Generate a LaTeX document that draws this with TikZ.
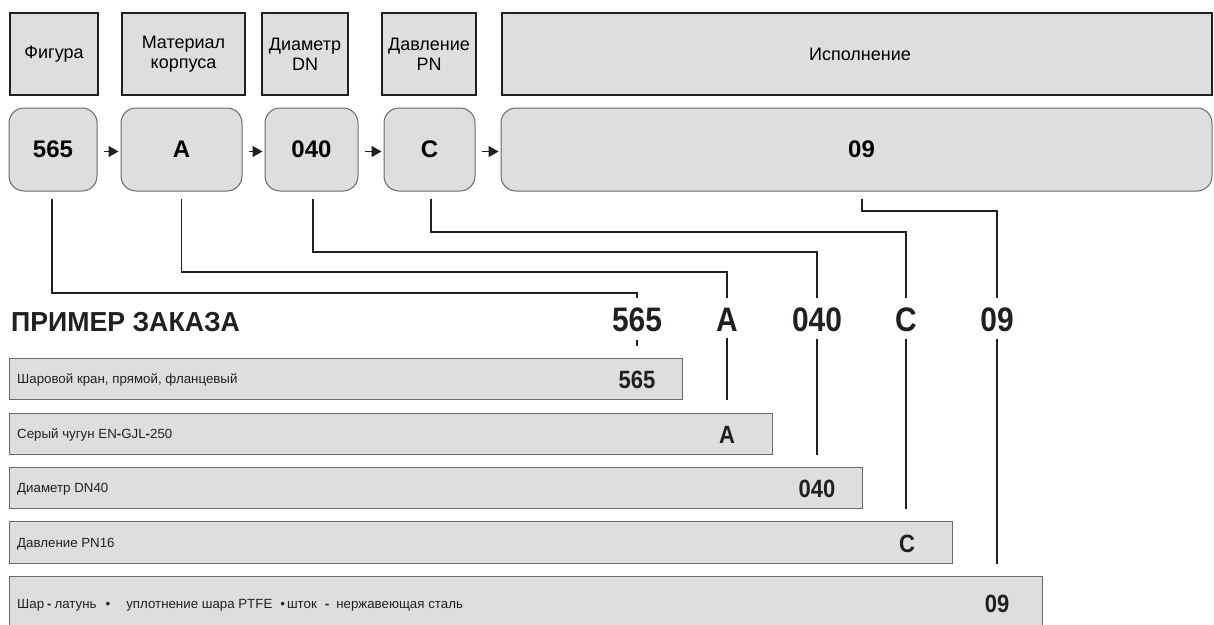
\documentclass[tikz,border=0pt]{standalone}
\usepackage{fontspec}
\setmainfont{Liberation Sans}
\newfontfamily\hdfont[FakeStretch=0.97]{Liberation Sans}
\newfontfamily\codefont[FakeStretch=0.88]{Liberation Sans}
\usetikzlibrary{arrows.meta,calc}
\definecolor{boxfill}{RGB}{222,222,222}
\definecolor{linec}{RGB}{35,31,32}
\definecolor{rimc}{RGB}{105,105,105}
\tikzset{
 topbox/.style={draw=linec, line width=1.5pt, fill=boxfill, inner sep=0pt, align=center, font=\fontsize{18}{20}\selectfont},
 codebox/.style={draw=rimc, line width=1pt, fill=boxfill, rounded corners=15pt, inner sep=0pt, minimum height=83pt, font=\fontsize{24}{24}\selectfont\bfseries},
 bar/.style={draw=rimc, line width=1.4pt, fill=boxfill, anchor=north west, inner sep=0pt},
 flow/.style={draw=linec, line width=1.4pt, -{Triangle[length=10pt,width=11pt]}, shorten <=6pt, shorten >=2pt},
 conn/.style={draw=linec, line width=1.3pt},
 bigcode/.style={font=\codefont\bfseries\fontsize{34}{34}\selectfont, inner sep=0pt, anchor=base, text=linec},
 barcode/.style={font=\codefont\bfseries\fontsize{25}{25}\selectfont, inner sep=0pt, anchor=base, text=linec},
 bartext/.style={font=\fontsize{13.3}{15}\selectfont, inner sep=0pt, anchor=base west, text=linec},
}
\begin{document}
\begin{tikzpicture}[x=1pt,y=-1pt]
\useasboundingbox (0,0) rectangle (1214,624);

% header boxes
\node[topbox, minimum width=88pt, minimum height=82pt] (hFig) at (54,54) {Фигура};
\node[topbox, minimum width=123pt, minimum height=82pt] (hMat) at (183.5,54) {Материал\\корпуса};
\node[topbox, minimum width=86pt, minimum height=82pt] (hDN) at (305,54) {Диаметр\\DN};
\node[topbox, minimum width=94pt, minimum height=82pt] (hPN) at (429,54) {Давление\\PN};
\node[topbox, minimum width=710pt, minimum height=82pt] (hIsp) at (857,54) {\hspace{6pt}Исполнение};

% code boxes
\node[codebox, minimum width=88pt] (r565) at (53,149.5) {565};
\node[codebox, minimum width=121pt] (rA) at (181.5,149.5) {A};
\node[codebox, minimum width=93pt] (r040) at (311.5,149.5) {040};
\node[codebox, minimum width=91pt] (rC) at (429.5,149.5) {C};
\node[codebox, minimum width=711pt] (r09) at (856.5,149.5) {\hspace{10pt}09};

\draw[flow] ([yshift=-2pt]r565.east) -- ([yshift=-2pt]rA.west);
\draw[flow] ([yshift=-2pt]rA.east) -- ([yshift=-2pt]r040.west);
\draw[flow] ([yshift=-2pt]r040.east) -- ([yshift=-2pt]rC.west);
\draw[flow] ([yshift=-2pt]rC.east) -- ([yshift=-2pt]r09.west);

% heading and order codes
\node[font=\hdfont\bfseries\fontsize{27.5}{28}\selectfont, inner sep=0pt, anchor=base west, text=linec] (title) at (11,331) {ПРИМЕР ЗАКАЗА};
\node[bigcode] (L565) at (637,331) {565};
\node[bigcode] (LA) at (727,331) {A};
\node[bigcode] (L040) at (817,331) {040};
\node[bigcode] (LC) at (906,331) {C};
\node[bigcode] (L09) at (997,331) {09};

\coordinate (k565) at (637,293);
\coordinate (kA) at (727,272);
\coordinate (k040) at (817,252);
\coordinate (kC) at (906,232);
\coordinate (k09) at (997,211);

\draw[conn] ([xshift=-1pt]r565.south) ++(0,7) |- (k565) -- ++(0,5);
\draw[conn] (rA.south) ++(0,7) |- (kA) -- ++(0,26);
\draw[conn] ([xshift=1.5pt]r040.south) ++(0,7) |- (k040) -- ++(0,46);
\draw[conn] ([xshift=1.5pt]rC.south) ++(0,7) |- (kC) -- ++(0,66);
\draw[conn] ([xshift=5.5pt]r09.south) ++(0,7) |- (k09) -- ++(0,87);

% bars
\node[bar, minimum width=673pt, minimum height=41pt] (b1) at (9,358) {};
\node[bar, minimum width=763pt, minimum height=41pt] (b2) at (9,413) {};
\node[bar, minimum width=853pt, minimum height=41pt] (b3) at (9,467) {};
\node[bar, minimum width=943pt, minimum height=42pt] (b4) at (9,521) {};
\node[bar, minimum width=1033pt, minimum height=56pt] (b5) at (9,576) {};

\draw[conn] (L565.south) ++(0,8) -- ++(0,6);
\draw[conn] (LA.south) ++(0,7) -- (LA.south |- b1.south);
\draw[conn] (L040.south) ++(0,7) -- (L040.south |- b2.south);
\draw[conn] (LC.south) ++(0,7) -- (LC.south |- b3.south);
\draw[conn] (L09.south) ++(0,7) -- (L09.south |- b4.south);

\node[bartext] (t1) at (17,383.5) {Шаровой кран, прямой, фланцевый};
\node[bartext] (t2) at (17,438) {Серый чугун EN{\bfseries -}GJL{\bfseries -}250};
\node[bartext] (t3) at (17,492) {Диаметр DN40};
\node[bartext] (t4) at (17,547) {Давление PN16};
\node[bartext] (t5) at (17,608) {Шар\hspace{3pt}{\bfseries -}\hspace{3pt}латунь\hspace{9pt}•\hspace{16pt}уплотнение шара PTFE\hspace{8pt}•\hspace{2pt}шток\hspace{8pt}{\bfseries -}\hspace{7pt}нержавеющая сталь};

\node[barcode] (c1) at (637,388) {565};
\node[barcode] (c2) at (727,443) {A};
\node[barcode] (c3) at (817,497) {040};
\node[barcode] (c4) at (907,552) {C};
\node[barcode] (c5) at (997,612) {09};
\end{tikzpicture}
\end{document}
